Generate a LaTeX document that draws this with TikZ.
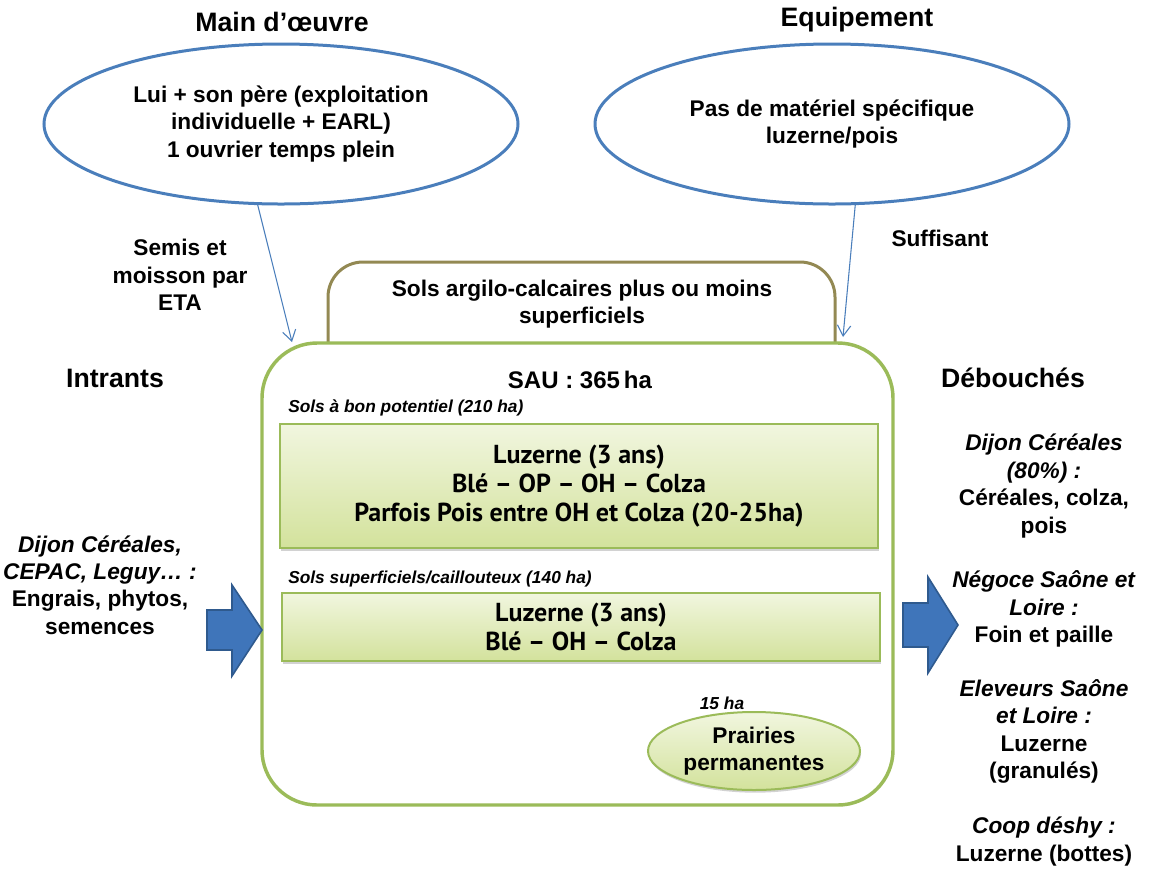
\documentclass[tikz,border=0pt]{standalone}
\usepackage{fontspec}
\setmainfont{Liberation Sans}
\newfontfamily\boxfont{PT Sans}
\usetikzlibrary{shapes.geometric,shadows,arrows.meta}

\definecolor{ovalblue}{HTML}{4A7EBB}
\definecolor{soilbrown}{HTML}{938953}
\definecolor{leafgreen}{HTML}{9BBB59}
\definecolor{paleleaf}{HTML}{F1F6DF}
\definecolor{deepleaf}{HTML}{D3E29C}
\definecolor{flowblue}{HTML}{3F75BA}
\definecolor{flowedge}{HTML}{2F5A8E}

\tikzset{
  heading/.style={font=\fontsize{20}{24}\selectfont\bfseries},
  body/.style={font=\fontsize{17}{20.6}\selectfont\bfseries, align=center, inner sep=0pt},
  note/.style={font=\fontsize{13}{15}\selectfont\bfseries\itshape, inner sep=0pt},
  oval/.style={ellipse, draw=ovalblue, line width=2.25pt,
    minimum width={474*0.75pt}, minimum height={160*0.75pt}, inner sep=0pt, body},
  thinarrow/.style={draw=ovalblue, line width=0.8pt,
    -{Straight Barb[length=8pt,width=10pt]}},
  croprow/.style={rectangle, draw=leafgreen, line width=1.2pt,
    top color=paleleaf, bottom color=deepleaf,
    drop shadow={shadow xshift=0.8pt, shadow yshift=-2pt, opacity=0.35},
    font=\boxfont\bfseries\fontsize{19.5}{22}\selectfont, align=center, inner sep=0pt},
  blockarrow/.style={fill=flowblue, draw=flowedge, line width=1.2pt, line join=miter}
}

\begin{document}
\begin{tikzpicture}[x=0.75pt,y=-0.75pt]
  \useasboundingbox (0,0) rectangle (1153,869);

  % headings
  \node[heading] (hmo) at (282,22) {Main d’œuvre};
  \node[heading] (heq) at (857,20) {Equipement};
  \node[heading] (hin) at (115,378) {Intrants};
  \node[heading] (hde) at (1013,378) {Débouchés};

  % labour and equipment ovals
  \node[oval] (mo) at (281,124) {Lui + son père (exploitation\\individuelle + EARL)\\1 ouvrier temps plein};
  \node[oval] (eq) at (832,124) {Pas de matériel spécifique\\luzerne/pois};

  % soil frame behind the farm frame
  \node[rectangle, rounded corners={35*0.75pt}, draw=soilbrown, line width=2.25pt,
    minimum width={507*0.75pt}, minimum height={140*0.75pt}] (soil) at (581.5,332) {};
  \node[body] (soiltxt) at (582,304) {Sols argilo-calcaires plus ou moins\\superficiels};

  % farm frame
  \node[rectangle, rounded corners={55*0.75pt}, draw=leafgreen, fill=white, line width=2.6pt,
    minimum width={631*0.75pt}, minimum height={462*0.75pt}] (sau) at (577.5,574) {};
  \node[body, font=\fontsize{18}{21}\selectfont\bfseries] (sautxt) at (580,380) {SAU : 365\,ha};

  % crop rotations
  \node[note, anchor=west] (good) at (288,408) {Sols à bon potentiel (210 ha)};
  \node[croprow, minimum width={598*0.75pt}, minimum height={124*0.75pt}] (rot1) at (579,486)
    {Luzerne (3 ans)\\Blé – OP – OH – Colza\\Parfois Pois entre OH et Colza (20-25ha)};
  \node[note, anchor=west] (poor) at (288,579) {Sols superficiels/caillouteux (140 ha)};
  \node[croprow, minimum width={598*0.75pt}, minimum height={68*0.75pt}] (rot2) at (581,627)
    {Luzerne (3 ans)\\Blé – OH – Colza};

  % permanent grassland
  \node[note] (pha) at (722,703) {15 ha};
  \node[ellipse, draw=leafgreen, line width=1.5pt, top color=paleleaf, bottom color=deepleaf,
    drop shadow={shadow xshift=0.8pt, shadow yshift=-2pt, opacity=0.35},
    minimum width={212*0.75pt}, minimum height={78*0.75pt}, body] (prairie) at (754,751)
    {Prairies\\permanentes};

  % labour / equipment links
  \coordinate (moend) at (292,342);
  \coordinate (eqend) at (843,337);
  \draw[thinarrow] (mo.254) -- (moend);
  \draw[thinarrow] (eq.286) -- (eqend);
  \node[body] (eta) at (180,275) {Semis et\\moisson par\\ETA};
  \node[body] (suff) at (940,238) {Suffisant};

  % inputs
  \node[body] (inputs) at (100,585) {\textit{Dijon Céréales,}\\\textit{CEPAC, Leguy… :}\\Engrais, phytos,\\semences};
  \draw[blockarrow] (207,610) -- (232,610) -- (232,585) -- (262,630) -- (232,676) -- (232,650) -- (207,650) -- cycle;

  % outlets
  \draw[blockarrow] (903,603) -- (928,603) -- (928,577) -- (958,625) -- (928,673) -- (928,647) -- (903,647) -- cycle;
  \node[body] (out1) at (1044,486) {\textit{Dijon Céréales}\\\textit{(80\%) :}\\Céréales, colza,\\pois};
  \node[body] (out2) at (1044,609) {\textit{Négoce Saône et}\\\textit{Loire :}\\Foin et paille};
  \node[body] (out3) at (1044,731.5) {\textit{Eleveurs Saône}\\\textit{et Loire :}\\Luzerne\\(granulés)};
  \node[body] (out4) at (1044,841.5) {\textit{Coop déshy :}\\Luzerne (bottes)};
\end{tikzpicture}
\end{document}
